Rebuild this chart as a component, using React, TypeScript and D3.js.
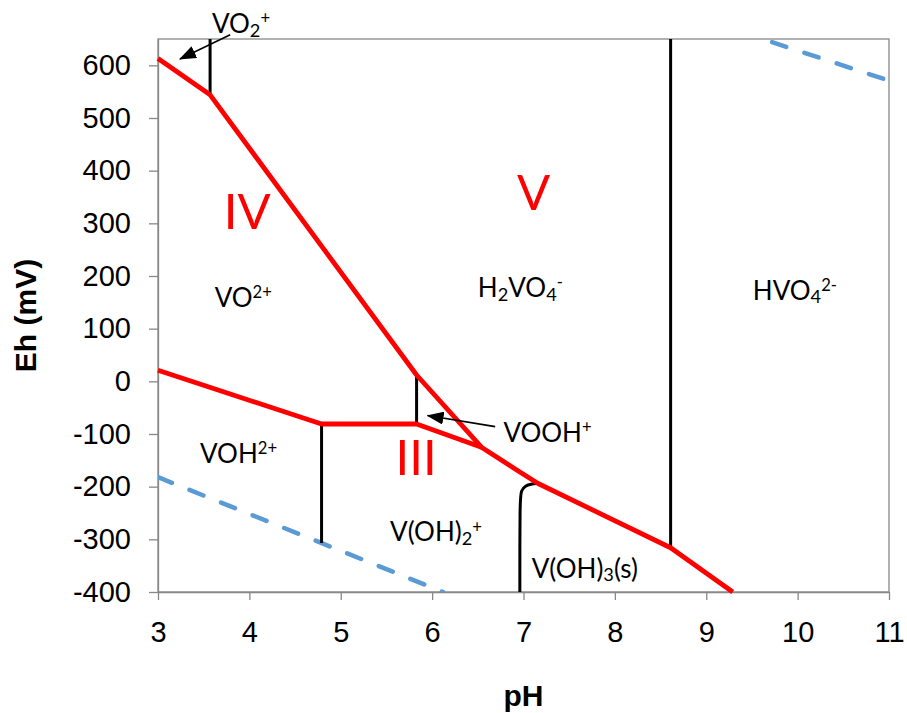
import React, { useEffect, useRef } from 'react'
import * as d3 from 'd3'

type Pt = [number, number]

// axis ticks
const phTicks = [3, 4, 5, 6, 7, 8, 9, 10, 11]
const ehTicks = [-400, -300, -200, -100, 0, 100, 200, 300, 400, 500, 600]

// red boundaries (oxidation state changes), pH / Eh in mV
const upperRed: Pt[] = [
  [3, 613], [3.57, 544], [5.83, 12], [6.54, -125], [6.96, -172], [7.16, -194], [8.61, -316], [9.29, -400]
]
const lowerRed: Pt[] = [[3, 21], [4.79, -81], [5.83, -81], [6.54, -125]]

// black boundaries (same oxidation state)
const blackBounds: Pt[][] = [
  [[3.57, 650], [3.57, 544]],
  [[4.79, -81], [4.79, -307]],
  [[5.83, 12], [5.83, -81]],
  [[8.61, 650], [8.61, -316]]
]
const solidBound: Pt[] = [[6.96, -400], [6.96, -224], [6.975, -207], [7.02, -198], [7.08, -195], [7.16, -194]]

// water stability lines
const waterLow: Pt[] = [[3, -182], [6.12, -400]]
const waterHigh: Pt[] = [[9.72, 644], [11, 571]]

type Part = [string, '' | 'sub' | 'sup']
const speciesLabels: { ph: number; eh: number; parts: Part[] }[] = [
  { ph: 3.59, eh: 661, parts: [['VO', ''], ['2', 'sub'], ['+', 'sup']] },
  { ph: 3.62, eh: 141, parts: [['VO', ''], ['2+', 'sup']] },
  { ph: 3.46, eh: -155, parts: [['VOH', ''], ['2+', 'sup']] },
  { ph: 6.5, eh: 160, parts: [['H', ''], ['2', 'sub'], ['VO', ''], ['4', 'sub'], ['-', 'sup']] },
  { ph: 9.51, eh: 155, parts: [['HVO', ''], ['4', 'sub'], ['2-', 'sup']] },
  { ph: 5.54, eh: -304, parts: [['V(OH)', ''], ['2', 'sub'], ['+', 'sup']] },
  { ph: 7.09, eh: -373, parts: [['V(OH)', ''], ['3', 'sub'], ['(s)', '']] },
  { ph: 6.78, eh: -115, parts: [['VOOH', ''], ['+', 'sup']] }
]
const stateLabels: { ph: number; eh: number; text: string }[] = [
  { ph: 3.72, eh: 289, text: 'IV' },
  { ph: 6.93, eh: 326, text: 'V' },
  { ph: 5.6, eh: -177, text: 'III' }
]
const arrows: { from: Pt; to: Pt }[] = [
  { from: [3.79, 658], to: [3.24, 612] },
  { from: [6.69, -86], to: [5.95, -65] }
]

const PourbaixChart: React.FC = () => {
  const ref = useRef<SVGSVGElement | null>(null)

  useEffect(() => {
    if (!ref.current) {
      return
    }
    const width = 907
    const height = 713
    const margin = { top: 39, right: 18, bottom: 121, left: 158 }
    const svg = d3.select(ref.current)
    svg.attr('viewBox', `0 0 ${width} ${height}`)
    svg.selectAll('*').remove()

    const x = d3.scaleLinear().domain([3, 11]).range([margin.left, width - margin.right])
    const y = d3.scaleLinear().domain([-400, 650]).range([height - margin.bottom, margin.top])
    const line = d3.line<Pt>().x((d) => x(d[0])).y((d) => y(d[1]))
    const labelFont = "Lato, 'Open Sans', sans-serif"
    const axisFont = "'Liberation Sans', Arial, sans-serif"
    const gray = '#888888'

    const defs = svg.append('defs')
    defs
      .append('clipPath')
      .attr('id', 'plot-clip')
      .append('rect')
      .attr('x', margin.left)
      .attr('y', margin.top)
      .attr('width', width - margin.left - margin.right)
      .attr('height', height - margin.top - margin.bottom)
    defs
      .append('marker')
      .attr('id', 'arrow-head')
      .attr('markerUnits', 'userSpaceOnUse')
      .attr('markerWidth', 17)
      .attr('markerHeight', 13)
      .attr('viewBox', '0 0 17 13')
      .attr('refX', 16)
      .attr('refY', 6.5)
      .attr('orient', 'auto')
      .append('path')
      .attr('d', 'M0,0 L17,6.5 L0,13 Z')
      .attr('fill', '#000')

    // frame
    svg
      .append('rect')
      .attr('x', margin.left)
      .attr('y', margin.top)
      .attr('width', width - margin.left - margin.right)
      .attr('height', height - margin.top - margin.bottom)
      .attr('fill', 'none')
      .attr('stroke', gray)
      .attr('stroke-width', 1.3)

    const xAxis = svg
      .append('g')
      .attr('transform', `translate(0,${height - margin.bottom})`)
      .call(d3.axisBottom(x).tickValues(phTicks).tickSize(8).tickSizeOuter(0).tickPadding(21).tickFormat(d3.format('d')))
    const yAxis = svg
      .append('g')
      .attr('transform', `translate(${margin.left},0)`)
      .call(d3.axisLeft(y).tickValues(ehTicks).tickSize(9).tickSizeOuter(0).tickPadding(18).tickFormat(d3.format('d')))
    ;[xAxis, yAxis].forEach((ax) => {
      ax.select('.domain').attr('stroke', gray).attr('stroke-width', 1.3)
      ax.selectAll('.tick line').attr('stroke', gray).attr('stroke-width', 1.3)
      ax.selectAll('.tick text').attr('font-size', 29).attr('font-family', axisFont).attr('fill', '#000')
    })
    yAxis.selectAll('.tick text').text((d) => (d as number) < 0 ? `-${Math.abs(d as number)}` : String(d))

    svg
      .append('text')
      .attr('transform', `translate(36,${(margin.top + height - margin.bottom) / 2}) rotate(-90)`)
      .attr('text-anchor', 'middle')
      .attr('font-family', axisFont)
      .attr('font-weight', 'bold')
      .attr('font-size', 30)
      .text('Eh (mV)')
    svg
      .append('text')
      .attr('x', (margin.left + width - margin.right) / 2)
      .attr('y', 706)
      .attr('text-anchor', 'middle')
      .attr('font-family', axisFont)
      .attr('font-weight', 'bold')
      .attr('font-size', 30)
      .text('pH')

    const plot = svg.append('g').attr('clip-path', 'url(#plot-clip)')

    ;[waterLow, waterHigh].forEach((seg) => {
      plot
        .append('path')
        .attr('d', line(seg))
        .attr('fill', 'none')
        .attr('stroke', '#5b9bd5')
        .attr('stroke-width', 4.5)
        .attr('stroke-linecap', 'round')
        .attr('stroke-dasharray', '15 19')
    })

    blackBounds.forEach((seg) => {
      svg
        .append('path')
        .attr('d', line(seg))
        .attr('fill', 'none')
        .attr('stroke', '#000')
        .attr('stroke-width', 3)
    })
    svg
      .append('path')
      .attr('d', line.curve(d3.curveBasis)(solidBound))
      .attr('fill', 'none')
      .attr('stroke', '#000')
      .attr('stroke-width', 3)
    line.curve(d3.curveLinear)

    ;[upperRed, lowerRed].forEach((seg) => {
      svg
        .append('path')
        .attr('d', line(seg))
        .attr('fill', 'none')
        .attr('stroke', '#ff0000')
        .attr('stroke-width', 4.8)
        .attr('stroke-linejoin', 'round')
    })

    arrows.forEach((a) => {
      svg
        .append('line')
        .attr('x1', x(a.from[0]))
        .attr('y1', y(a.from[1]))
        .attr('x2', x(a.to[0]))
        .attr('y2', y(a.to[1]))
        .attr('stroke', '#000')
        .attr('stroke-width', 1.6)
        .attr('marker-end', 'url(#arrow-head)')
    })

    const base = 26
    speciesLabels.forEach((lab) => {
      const t = svg
        .append('text')
        .attr('x', x(lab.ph))
        .attr('y', y(lab.eh))
        .attr('font-family', labelFont)
        .attr('font-size', base)
        .attr('fill', '#000')
      let shift = 0
      lab.parts.forEach(([s, kind]) => {
        const target = kind === 'sub' ? base * 0.14 : kind === 'sup' ? -base * 0.34 : 0
        t.append('tspan')
          .attr('dy', target - shift)
          .attr('font-size', kind === 'sub' ? base * 0.7 : kind === 'sup' ? base * 0.64 : base)
          .text(s)
        shift = target
      })
    })

    stateLabels.forEach((lab) => {
      svg
        .append('text')
        .attr('x', x(lab.ph))
        .attr('y', y(lab.eh))
        .attr('font-family', labelFont)
        .attr('font-size', 49)
        .attr('fill', '#ff0000')
        .text(lab.text)
    })
  }, [])

  return <svg ref={ref} width={907} height={713} style={{ position: 'absolute', left: 0, top: 0, background: '#fff' }} />
}

export default function App() {
  return <PourbaixChart />
}
